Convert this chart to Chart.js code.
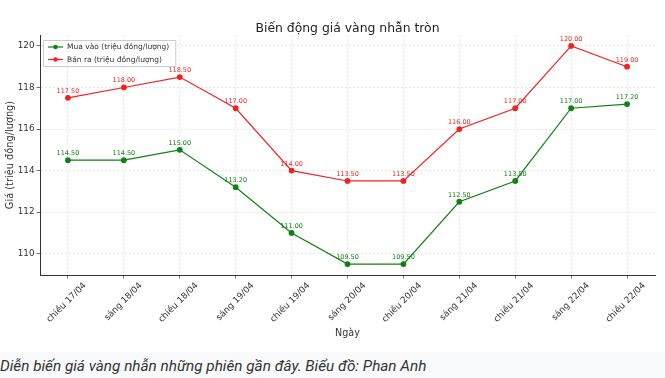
<!DOCTYPE html>
<html><head><meta charset="utf-8">
<script src="https://cdn.jsdelivr.net/npm/chart.js@4/dist/chart.umd.min.js"></script>
<style>
html,body{margin:0;padding:0;background:#fff;}
#wrap{width:665px;height:352px;position:relative;}
#cap{height:26px;background:#f9fafc;font-family:Roboto,"Noto Sans",sans-serif;font-style:italic;font-size:15.3px;color:#333;line-height:29px;padding-left:0;white-space:nowrap;}
</style></head>
<body>
<div id="wrap"><canvas id="c" width="665" height="352"></canvas></div>
<div id="cap">Diễn biến giá vàng nhẫn những phiên gần đây. Biểu đồ: Phan Anh</div>
<script>
const categories = ["chiều 17/04","sáng 18/04","chiều 18/04","sáng 19/04","chiều 19/04","sáng 20/04","chiều 20/04","sáng 21/04","chiều 21/04","sáng 22/04","chiều 22/04"];
const buyValues = [114.5,114.5,115.0,113.2,111.0,109.5,109.5,112.5,113.5,117.0,117.2];
const sellValues = [117.5,118.0,118.5,117.0,114.0,113.5,113.5,116.0,117.0,120.0,119.0];
const yTicks = [110,112,114,116,118,120];
const buyLabel = "Mua vào (triệu đồng/lượng)";
const sellLabel = "Bán ra (triệu đồng/lượng)";
const titleText = "Biến động giá vàng nhẫn tròn";

const FONT = "'DejaVu Sans', sans-serif";

const helper = {
  id: 'helper',
  afterDatasetsDraw(chart) {
    const ctx = chart.ctx;
    ctx.save();
    chart.data.datasets.forEach((ds, di) => {
      const meta = chart.getDatasetMeta(di);
      ctx.fillStyle = ds.borderColor;
      ctx.font = "6.5px " + FONT;
      ctx.textAlign = 'center';
      ctx.textBaseline = 'alphabetic';
      meta.data.forEach((pt, i) => {
        ctx.fillText(ds.data[i].toFixed(2), pt.x, pt.y - 5);
      });
    });
    const a = chart.chartArea;
    const lx = a.left + 3, ly = a.top + 5;
    ctx.font = "7.5px " + FONT;
    let w = 0;
    chart.data.datasets.forEach(ds => { w = Math.max(w, ctx.measureText(ds.label).width); });
    const bw = 26 + w + 4, bh = 26;
    ctx.fillStyle = 'rgba(255,255,255,0.85)';
    ctx.strokeStyle = '#cccccc';
    ctx.lineWidth = 1;
    ctx.beginPath();
    ctx.rect(lx + 0.5, ly + 0.5, bw, bh);
    ctx.fill(); ctx.stroke();
    chart.data.datasets.forEach((ds, di) => {
      const y = ly + 7 + di * 12.5;
      ctx.strokeStyle = ds.borderColor;
      ctx.lineWidth = 1.2;
      ctx.beginPath(); ctx.moveTo(lx + 5, y); ctx.lineTo(lx + 20, y); ctx.stroke();
      ctx.fillStyle = ds.borderColor;
      ctx.beginPath(); ctx.arc(lx + 12.5, y, 2.2, 0, Math.PI * 2); ctx.fill();
      ctx.fillStyle = '#333';
      ctx.textAlign = 'left';
      ctx.textBaseline = 'middle';
      ctx.fillText(ds.label, lx + 24, y + 0.5);
    });
    ctx.fillStyle = '#222';
    ctx.font = "12.4px " + FONT;
    ctx.textAlign = 'center';
    ctx.textBaseline = 'alphabetic';
    ctx.fillText(titleText, (a.left + a.right) / 2, 32);
    ctx.restore();
  }
};

new Chart(document.getElementById('c'), {
  type: 'line',
  data: {
    labels: categories,
    datasets: [
      { label: buyLabel, data: buyValues, borderColor: '#108010', backgroundColor: '#108010',
        borderWidth: 1.2, pointRadius: 2.3, pointHoverRadius: 2.3, tension: 0 },
      { label: sellLabel, data: sellValues, borderColor: '#f52020', backgroundColor: '#f52020',
        borderWidth: 1.2, pointRadius: 2.3, pointHoverRadius: 2.3, tension: 0 }
    ]
  },
  options: {
    responsive: false,
    animation: false,
    events: [],
    layout: { padding: { top: 35, right: 10, left: 0, bottom: 0 } },
    plugins: { legend: { display: false }, tooltip: { enabled: false }, title: { display: false } },
    scales: {
      x: {
        type: 'category',
        offset: true,
        grid: { color: '#dddddd', tickColor: '#333', tickLength: 3.5, offset: false, lineWidth: 0.7 },
        border: { display: true, color: '#333', width: 1, dash: [2, 2] },
        ticks: { color: '#333', font: { family: FONT, size: 8.8 }, minRotation: 45, maxRotation: 45,
                 autoSkip: false, padding: 2, labelOffset: 17 },
        title: { display: true, text: 'Ngày', color: '#333', font: { family: FONT, size: 9.6 }, padding: { top: 0, bottom: 13 } },
        afterFit(s) { s.height = 77; }
      },
      y: {
        min: 108.975, max: 120.525,
        grid: { color: '#dddddd', tickColor: '#333', tickLength: 3.5, lineWidth: 0.7 },
        border: { display: true, color: '#333', width: 1, dash: [2, 2] },
        ticks: { color: '#333', font: { family: FONT, size: 8.8 }, padding: 2 },
        afterBuildTicks(s) { s.ticks = yTicks.map(v => ({ value: v })); },
        title: { display: true, text: 'Giá (triệu đồng/lượng)', color: '#333', font: { family: FONT, size: 9.8 }, padding: { top: 5, bottom: 0 } },
        afterFit(s) { s.width = 40; }
      }
    }
  },
  plugins: [helper]
});
</script>
</body></html>
